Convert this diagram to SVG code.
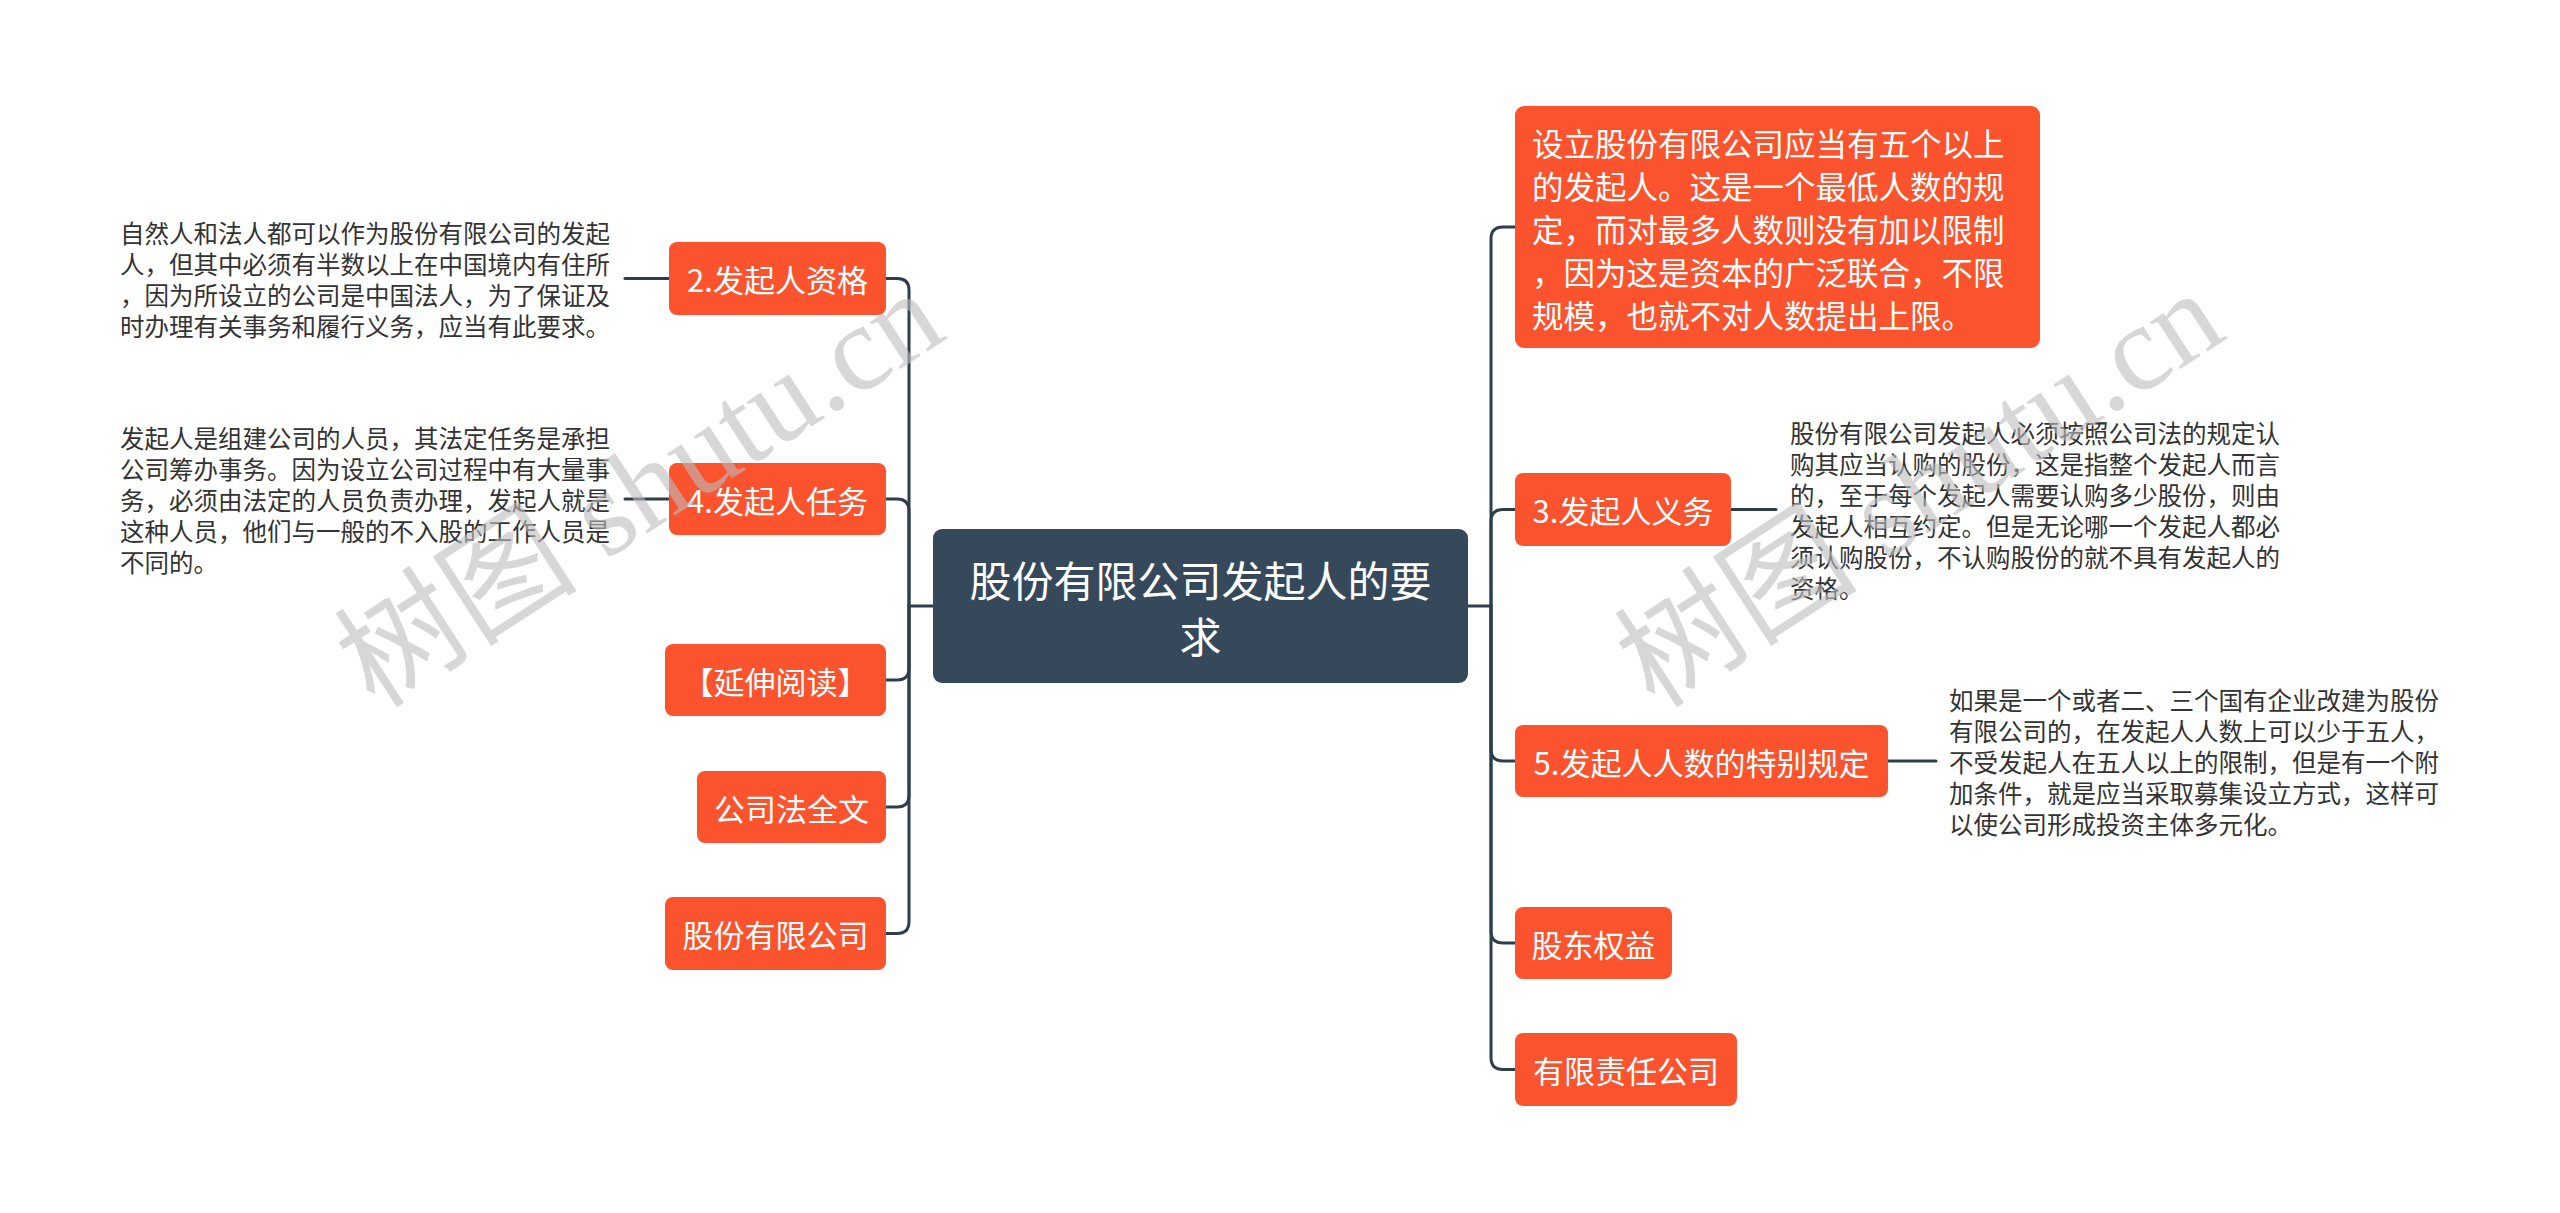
<svg xmlns="http://www.w3.org/2000/svg" width="2560" height="1213" viewBox="0 0 2560 1213">
<style>
.box{fill:#fa532d;}
.root{fill:#36495a;}
.nt{font-family:"Noto Sans CJK SC","Noto Sans",sans-serif;font-size:31px;fill:#ffffff;text-anchor:middle;dominant-baseline:central;}
.rt{font-family:"Noto Sans CJK SC","Noto Sans",sans-serif;font-size:42px;fill:#ffffff;text-anchor:middle;dominant-baseline:central;}
.bt{font-family:"Noto Sans CJK SC","Noto Sans",sans-serif;font-size:31.5px;fill:#ffffff;dominant-baseline:central;}
.dt{font-family:"Noto Sans CJK SC","Noto Sans",sans-serif;font-size:24.5px;fill:#333333;dominant-baseline:central;}
.ln{fill:none;stroke:#2d3e4f;stroke-width:3;stroke-linecap:round;}
.wm{font-family:"Liberation Serif","Noto Sans CJK SC",serif;font-size:122px;fill:#bdbdbd;opacity:0.6;}
</style>
<rect width="2560" height="1213" fill="#ffffff"/>
<g id="connectors">
<path class="ln" d="M933 606 H909"/>
<path class="ln" d="M909 606 V290 Q909 278.5 897 278.5 H886"/>
<path class="ln" d="M909 606 V511 Q909 499 897 499 H886"/>
<path class="ln" d="M909 606 V668 Q909 680 897 680 H886"/>
<path class="ln" d="M909 606 V795 Q909 807 897 807 H886"/>
<path class="ln" d="M909 606 V921.5 Q909 933.5 897 933.5 H886"/>
<path class="ln" d="M1468 606 H1491"/>
<path class="ln" d="M1491 606 V239 Q1491 227 1503 227 H1515"/>
<path class="ln" d="M1491 606 V521.5 Q1491 509.5 1503 509.5 H1515"/>
<path class="ln" d="M1491 606 V749 Q1491 761 1503 761 H1515"/>
<path class="ln" d="M1491 606 V931 Q1491 943 1503 943 H1515"/>
<path class="ln" d="M1491 606 V1057.5 Q1491 1069.5 1503 1069.5 H1515"/>
<path class="ln" d="M625 278.5 H669"/>
<path class="ln" d="M625 499 H669"/>
<path class="ln" d="M1731 509.5 H1776"/>
<path class="ln" d="M1888 761 H1936"/>
</g>
<g id="root">
<rect class="root" x="933" y="529" width="535" height="154" rx="9"/>
<text class="rt" x="1200.5" y="578">股份有限公司发起人的要</text>
<text class="rt" x="1200.5" y="634">求</text>
</g>
<g id="n-zige">
<rect class="box" x="669" y="242" width="217" height="73" rx="8"/>
<text class="nt" x="777.5" y="278.5">2.发起人资格</text>
</g>
<g id="d-zige">
<text class="dt" x="120" y="232">自然人和法人都可以作为股份有限公司的发起</text>
<text class="dt" x="120" y="263">人，但其中必须有半数以上在中国境内有住所</text>
<text class="dt" x="120" y="294">，因为所设立的公司是中国法人，为了保证及</text>
<text class="dt" x="120" y="325">时办理有关事务和履行义务，应当有此要求。</text>
</g>
<g id="n-renwu">
<rect class="box" x="669" y="463" width="217" height="72" rx="8"/>
<text class="nt" x="777.5" y="499">4.发起人任务</text>
</g>
<g id="d-renwu">
<text class="dt" x="120" y="437">发起人是组建公司的人员，其法定任务是承担</text>
<text class="dt" x="120" y="468">公司筹办事务。因为设立公司过程中有大量事</text>
<text class="dt" x="120" y="499">务，必须由法定的人员负责办理，发起人就是</text>
<text class="dt" x="120" y="530">这种人员，他们与一般的不入股的工作人员是</text>
<text class="dt" x="120" y="561">不同的。</text>
</g>
<g id="n-yanshen">
<rect class="box" x="665" y="644" width="221" height="72" rx="8"/>
<text class="nt" x="775.5" y="680">【延伸阅读】</text>
</g>
<g id="n-gongsifa">
<rect class="box" x="697" y="771" width="189" height="72" rx="8"/>
<text class="nt" x="791.5" y="807">公司法全文</text>
</g>
<g id="n-gufen">
<rect class="box" x="665" y="897" width="221" height="73" rx="8"/>
<text class="nt" x="775.5" y="933.5">股份有限公司</text>
</g>
<g id="n-wuge">
<rect class="box" x="1515" y="106" width="525" height="242" rx="9"/>
<text class="bt" x="1532" y="142">设立股份有限公司应当有五个以上</text>
<text class="bt" x="1532" y="185">的发起人。这是一个最低人数的规</text>
<text class="bt" x="1532" y="228">定，而对最多人数则没有加以限制</text>
<text class="bt" x="1532" y="271">，因为这是资本的广泛联合，不限</text>
<text class="bt" x="1532" y="314">规模，也就不对人数提出上限。</text>
</g>
<g id="n-yiwu">
<rect class="box" x="1515" y="473" width="216" height="73" rx="8"/>
<text class="nt" x="1623" y="509.5">3.发起人义务</text>
</g>
<g id="d-yiwu">
<text class="dt" x="1790" y="432">股份有限公司发起人必须按照公司法的规定认</text>
<text class="dt" x="1790" y="463">购其应当认购的股份，这是指整个发起人而言</text>
<text class="dt" x="1790" y="494">的，至于每个发起人需要认购多少股份，则由</text>
<text class="dt" x="1790" y="525">发起人相互约定。但是无论哪一个发起人都必</text>
<text class="dt" x="1790" y="556">须认购股份，不认购股份的就不具有发起人的</text>
<text class="dt" x="1790" y="587">资格。</text>
</g>
<g id="n-teshu">
<rect class="box" x="1515" y="725" width="373" height="72" rx="8"/>
<text class="nt" x="1701.5" y="761">5.发起人人数的特别规定</text>
</g>
<g id="d-teshu">
<text class="dt" x="1949" y="699">如果是一个或者二、三个国有企业改建为股份</text>
<text class="dt" x="1949" y="730">有限公司的，在发起人人数上可以少于五人，</text>
<text class="dt" x="1949" y="761">不受发起人在五人以上的限制，但是有一个附</text>
<text class="dt" x="1949" y="792">加条件，就是应当采取募集设立方式，这样可</text>
<text class="dt" x="1949" y="823">以使公司形成投资主体多元化。</text>
</g>
<g id="n-gudong">
<rect class="box" x="1515" y="907" width="157" height="72" rx="8"/>
<text class="nt" x="1593.5" y="943">股东权益</text>
</g>
<g id="n-youxian">
<rect class="box" x="1515" y="1033" width="222" height="73" rx="8"/>
<text class="nt" x="1626" y="1069.5">有限责任公司</text>
</g>
<g id="watermarks">
<text class="wm" x="375" y="710" transform="rotate(-33 375 710)">树图 shutu.cn</text>
<text class="wm" x="1655" y="710" transform="rotate(-33 1655 710)">树图 shutu.cn</text>
</g>
</svg>
